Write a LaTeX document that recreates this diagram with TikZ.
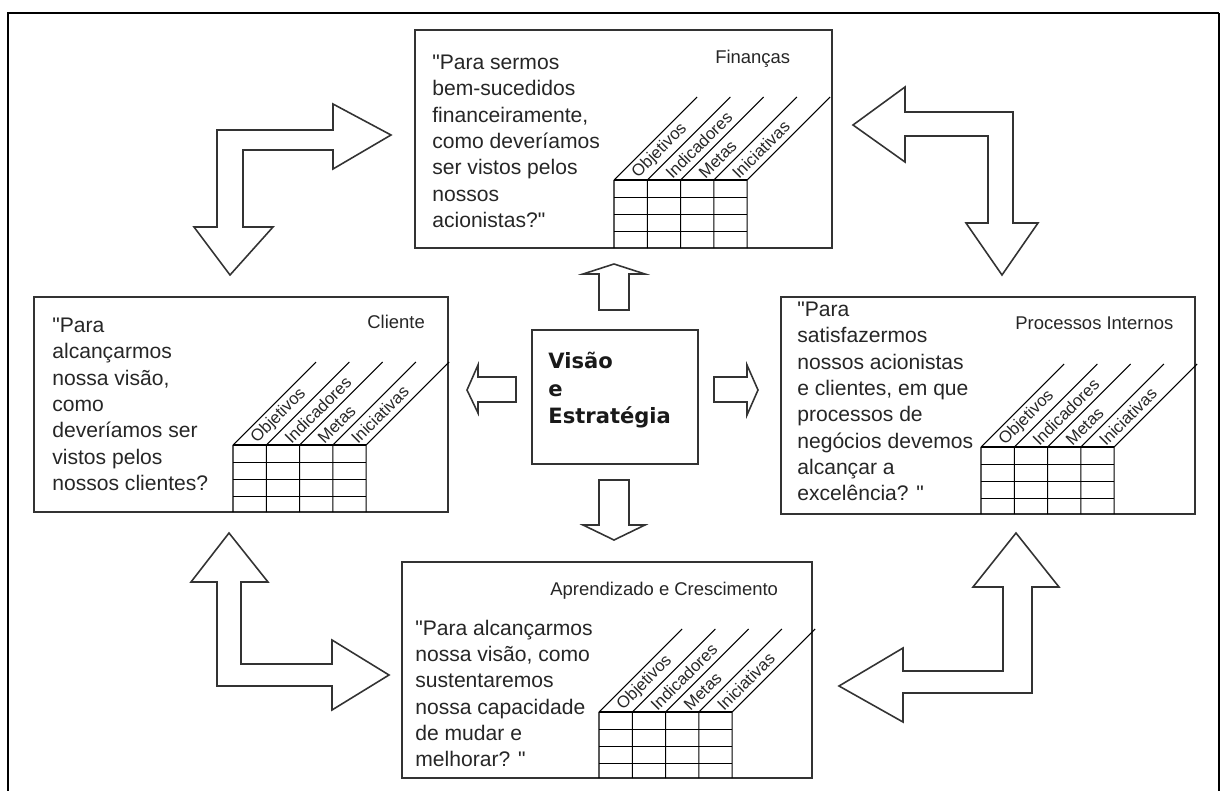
\documentclass[tikz,border=0pt]{standalone}
\usepackage{fontspec}
\usepackage{tikz}
\newfontfamily\arialfont{Liberation Sans}
\newfontfamily\verdanafont{DejaVu Sans}
\definecolor{ink}{HTML}{333333}

\newcommand{\bscgrid}[4]{%
  \foreach \i in {0,...,4}
    \draw[gridline] (#1+33.3*\i,#2) -- (#1+33.3*\i,#3)
                    (#1+33.3*\i,#2) -- ++(83,-83);
  \foreach \j in {0,...,3}
    \draw[gridline] (#1,#2+17.3*\j) -- (#1+133.2,#2+17.3*\j);
  \foreach \lab [count=\k from 0] in {Objetivos,Indicadores,Metas,Iniciativas}
    \node[coltag] (#4-\k) at (#1+33.3*\k+19.6,#2-3) {\lab};
}

\begin{document}
\begin{tikzpicture}[x=0.02cm,y=-0.02cm,
  box/.style={draw=ink,line width=0.7pt},
  gridline/.style={black,line width=0.6pt},
  bigarrow/.style={draw=ink,line width=0.9pt,fill=white,line join=miter},
  quotetext/.style={anchor=north west,align=left,inner sep=0pt,text=black!85,
    font=\arialfont\fontsize{12}{15}\selectfont},
  boxtag/.style={anchor=base west,inner sep=0pt,text=black!85,
    font=\arialfont\fontsize{10.5}{12}\selectfont},
  coltag/.style={rotate=45,anchor=west,inner sep=1pt,text=black!85,
    font=\arialfont\fontsize{9.5}{11}\selectfont}]
  \useasboundingbox (0,0) rectangle (1221,791);
  \draw[line width=1.2pt] (8,791) -- (8,13) -- (1219,13);
  \draw[line width=0.8pt] (1219,13) -- (1219,791);

  \draw[box] (415,30) rectangle (832,248);
  \node[quotetext] (finq) at (432,54.5) {"Para sermos\\bem-sucedidos\\financeiramente,\\como deveríamos\\ser vistos pelos\\nossos\\acionistas?"};
  \node[boxtag] (fint) at (715,63) {Finanças};
  \bscgrid{614}{180}{248}{fin}

  \draw[box] (34,297) rectangle (448,512);
  \node[quotetext] (cliq) at (52,317.5) {"Para\\alcançarmos\\nossa visão,\\como\\deveríamos ser\\vistos pelos\\nossos clientes?};
  \node[boxtag] (clit) at (367,328) {Cliente};
  \bscgrid{233}{445}{512}{cli}

  \draw[box] (781,297) rectangle (1195,514);
  \node[quotetext] (proq) at (797,301.5) {"Para\\satisfazermos\\nossos acionistas\\e clientes, em que\\processos de\\negócios devemos\\alcançar a\\excelência? "};
  \node[boxtag] (prot) at (1015,329) {Processos Internos};
  \bscgrid{981}{447}{514}{pro}

  \draw[box] (402,562) rectangle (812,778);
  \node[quotetext] (aprq) at (415,619.5) {"Para alcançarmos\\nossa visão, como\\sustentaremos\\nossa capacidade\\de mudar e\\melhorar? "};
  \node[boxtag] (aprt) at (550,595) {Aprendizado e Crescimento};
  \bscgrid{599}{712}{778}{apr}

  \draw[box] (532,330) rectangle (698,464);
  \node[anchor=north west,align=left,inner sep=0pt,text=black!90,
    font=\verdanafont\bfseries\fontsize{12}{15.6}\selectfont] (vis) at (548,352) {Visão\\e\\Estratégia};

  \draw[bigarrow] (614,264) -- (645,274) -- (629,274) -- (629,310) -- (599,310) -- (599,274) -- (583,274) -- cycle;
  \draw[bigarrow] (614,540) -- (645,525) -- (629,525) -- (629,480) -- (599,480) -- (599,525) -- (583,525) -- cycle;
  \draw[bigarrow] (467,390) -- (478,365) -- (478,377) -- (516,377) -- (516,402) -- (478,402) -- (478,413) -- cycle;
  \draw[bigarrow] (758,390) -- (747,365) -- (747,377) -- (714,377) -- (714,402) -- (747,402) -- (747,415) -- cycle;

  \draw[bigarrow] (391,135) -- (333,104) -- (333,130) -- (217,130) -- (217,227) -- (194,227) -- (230,275)
    -- (273,227) -- (243,227) -- (243,150) -- (333,150) -- (333,169) -- cycle;
  \draw[bigarrow] (853,125) -- (905,87) -- (905,112) -- (1013,112) -- (1013,223) -- (1038,223) -- (1002,275)
    -- (966,223) -- (988,223) -- (988,136) -- (905,136) -- (905,162) -- cycle;
  \draw[bigarrow] (229,533) -- (268,582) -- (241,582) -- (241,664) -- (332,664) -- (332,640) -- (389,675)
    -- (332,710) -- (332,686) -- (217,686) -- (217,582) -- (191,582) -- cycle;
  \draw[bigarrow] (1016,533) -- (1059,587) -- (1032,587) -- (1032,693) -- (903,693) -- (903,722) -- (839,686)
    -- (903,648) -- (903,671) -- (1003,671) -- (1003,587) -- (973,587) -- cycle;
\end{tikzpicture}
\end{document}
